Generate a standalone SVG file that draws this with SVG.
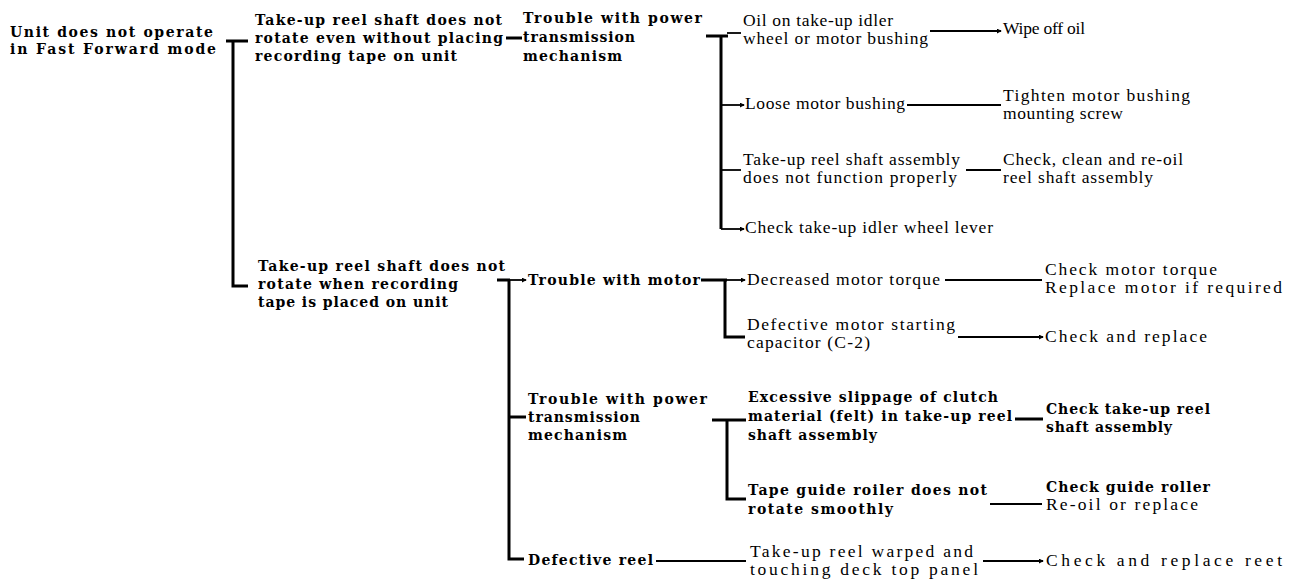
<svg xmlns="http://www.w3.org/2000/svg" width="1291" height="582" viewBox="0 0 1291 582">
<style>
text{font-family:"Liberation Serif","Times New Roman",serif;font-size:17.5px;fill:#000}
.b{font-family:"DejaVu Serif","Liberation Serif",serif;font-weight:bold;font-size:14px}
.br{fill:none;stroke:#000;stroke-width:3}
.ln{fill:none;stroke:#000;stroke-width:1.8}
</style>
<defs>
<marker id="ah" viewBox="0 0 6 6" refX="5" refY="3" markerWidth="5" markerHeight="5" markerUnits="userSpaceOnUse" orient="auto"><path d="M0,0 L6,3 L0,6 z" fill="#000"/></marker>
</defs>
<rect width="1291" height="582" fill="#fff"/>
<g id="connectors">
<path class="br" d="M226,41 H248 M233,41 V286 H248"/>
<path class="br" d="M506,38 H522"/>
<path class="br" d="M706,36 H728 M721,36 V229"/>
<path class="ln" d="M727,33 H741"/>
<path class="ln" d="M930,31 H1001" marker-end="url(#ah)"/>
<path class="ln" d="M721,105 H744" marker-end="url(#ah)"/>
<path class="ln" d="M907,105 H1001"/>
<path class="ln" d="M721,170 H741"/>
<path class="ln" d="M966,170 H1001"/>
<path class="ln" d="M721,229 H744" marker-end="url(#ah)"/>
<path class="br" d="M497,280 H510 M509,280 V559 H524"/>
<path class="ln" d="M510,280 H526" marker-end="url(#ah)"/>
<path class="br" d="M509,417 H526"/>
<path class="br" d="M701,280 H727 M725,280 V337 H745"/>
<path class="ln" d="M727,280 H745" marker-end="url(#ah)"/>
<path class="ln" d="M945,280 H1042"/>
<path class="ln" d="M958,337 H1043" marker-end="url(#ah)"/>
<path class="br" d="M712,420 H746 M727,420 V499 H746"/>
<path class="br" d="M1015,419 H1043"/>
<path class="ln" d="M990,504 H1042"/>
<path class="ln" d="M656,561 H746"/>
<path class="ln" d="M983,561 H1043" marker-end="url(#ah)"/>
</g>
<g id="n_unit"><text class="b" x="10" y="37" textLength="203" lengthAdjust="spacing">Unit does not operate</text><text class="b" x="10" y="54" textLength="206" lengthAdjust="spacing">in Fast Forward mode</text></g>
<g id="n_nolape"><text class="b" x="255" y="25" textLength="247" lengthAdjust="spacing">Take-up reel shaft does not</text><text class="b" x="255" y="43" textLength="248" lengthAdjust="spacing">rotate even without placing</text><text class="b" x="255" y="61" textLength="202" lengthAdjust="spacing">recording tape on unit</text></g>
<g id="n_power1"><text class="b" x="523" y="23" textLength="179" lengthAdjust="spacing">Trouble with power</text><text class="b" x="523" y="42" textLength="112" lengthAdjust="spacing">transmission</text><text class="b" x="523" y="61" textLength="99" lengthAdjust="spacing">mechanism</text></g>
<g id="n_oil"><text x="743" y="26" textLength="150" lengthAdjust="spacing">Oil on take-up idler</text><text x="743" y="44" textLength="185" lengthAdjust="spacing">wheel or motor bushing</text></g>
<g id="n_wipe"><text x="1003" y="34" textLength="82" lengthAdjust="spacing">Wipe off oil</text></g>
<g id="n_loose"><text x="745" y="109" textLength="160" lengthAdjust="spacing">Loose motor bushing</text></g>
<g id="n_tighten"><text x="1003" y="101" textLength="187" lengthAdjust="spacing">Tighten motor bushing</text><text x="1003" y="119" textLength="120" lengthAdjust="spacing">mounting screw</text></g>
<g id="n_shaftasm"><text x="743" y="165" textLength="217" lengthAdjust="spacing">Take-up reel shaft assembly</text><text x="743" y="183" textLength="214" lengthAdjust="spacing">does not function properly</text></g>
<g id="n_clean"><text x="1003" y="165" textLength="180" lengthAdjust="spacing">Check, clean and re-oil</text><text x="1003" y="183" textLength="150" lengthAdjust="spacing">reel shaft assembly</text></g>
<g id="n_lever"><text x="745" y="233" textLength="248" lengthAdjust="spacing">Check take-up idler wheel lever</text></g>
<g id="n_tape"><text class="b" x="258" y="271" textLength="247" lengthAdjust="spacing">Take-up reel shaft does not</text><text class="b" x="258" y="289" textLength="200" lengthAdjust="spacing">rotate when recording</text><text class="b" x="258" y="307" textLength="190" lengthAdjust="spacing">tape is placed on unit</text></g>
<g id="n_motor"><text class="b" x="528" y="285" textLength="172" lengthAdjust="spacing">Trouble with motor</text></g>
<g id="n_torque"><text x="747" y="285" textLength="193" lengthAdjust="spacing">Decreased motor torque</text></g>
<g id="n_checktorque"><text x="1045" y="275" textLength="172" lengthAdjust="spacing">Check motor torque</text><text x="1045" y="293" textLength="237" lengthAdjust="spacing">Replace motor if required</text></g>
<g id="n_capacitor"><text x="747" y="330" textLength="208" lengthAdjust="spacing">Defective motor starting</text><text x="747" y="348" textLength="123" lengthAdjust="spacing">capacitor (C-2)</text></g>
<g id="n_replace"><text x="1045" y="342" textLength="162" lengthAdjust="spacing">Check and replace</text></g>
<g id="n_power2"><text class="b" x="528" y="404" textLength="179" lengthAdjust="spacing">Trouble with power</text><text class="b" x="528" y="422" textLength="112" lengthAdjust="spacing">transmission</text><text class="b" x="528" y="440" textLength="99" lengthAdjust="spacing">mechanism</text></g>
<g id="n_slippage"><text class="b" x="748" y="402" textLength="250" lengthAdjust="spacing">Excessive slippage of clutch</text><text class="b" x="748" y="421" textLength="264" lengthAdjust="spacing">material (felt) in take-up reel</text><text class="b" x="748" y="440" textLength="129" lengthAdjust="spacing">shaft assembly</text></g>
<g id="n_checkreel"><text class="b" x="1046" y="414" textLength="164" lengthAdjust="spacing">Check take-up reel</text><text class="b" x="1046" y="432" textLength="126" lengthAdjust="spacing">shaft assembly</text></g>
<g id="n_roller"><text class="b" x="748" y="495" textLength="239" lengthAdjust="spacing">Tape guide roiler does not</text><text class="b" x="748" y="514" textLength="145" lengthAdjust="spacing">rotate smoothly</text></g>
<g id="n_checkroller"><text class="b" x="1046" y="492" textLength="164" lengthAdjust="spacing">Check guide roller</text><text x="1046" y="510" textLength="152" lengthAdjust="spacing">Re-oil or replace</text></g>
<g id="n_reel"><text class="b" x="528" y="565" textLength="125" lengthAdjust="spacing">Defective reel</text></g>
<g id="n_warped"><text x="750" y="557" textLength="223" lengthAdjust="spacing">Take-up reel warped and</text><text x="750" y="575" textLength="228" lengthAdjust="spacing">touching deck top panel</text></g>
<g id="n_replacereel"><text x="1046" y="566" textLength="236" lengthAdjust="spacing">Check and replace reet</text></g>
</svg>
